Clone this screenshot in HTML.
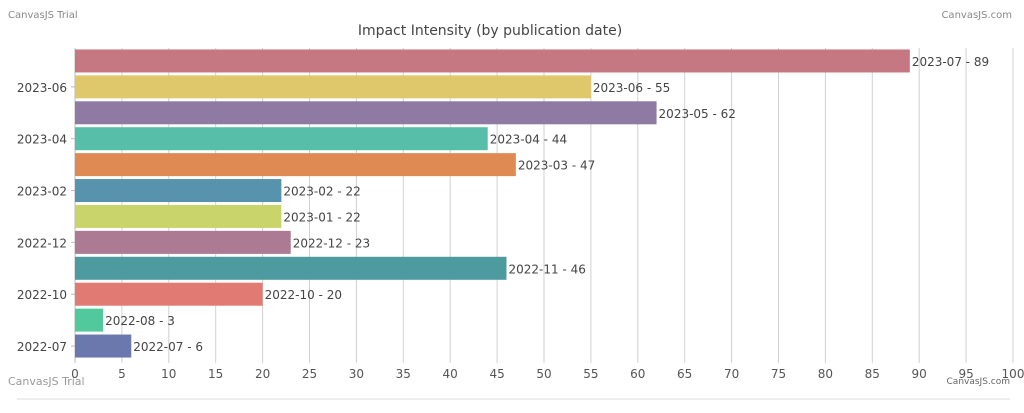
<!DOCTYPE html>
<html><head><meta charset="utf-8"><style>
body{margin:0;background:#fff;width:1024px;height:408px;overflow:hidden;font-family:"Liberation Sans",sans-serif}
svg text{font-family:"DejaVu Sans","Liberation Sans",sans-serif}
</style></head><body>
<svg width="1024" height="408">
<text x="8" y="18" font-size="10" fill="#888" font-family="Liberation Sans">CanvasJS Trial</text>
<text x="1012" y="18" font-size="10" fill="#888" text-anchor="end" font-family="Liberation Sans">CanvasJS.com</text>
<text x="490" y="35" font-size="14" fill="#444" text-anchor="middle" font-family="Liberation Sans">Impact Intensity (by publication date)</text>
<text x="8" y="385" font-size="11" fill="#999" font-family="Liberation Sans">CanvasJS Trial</text>
<text x="1010" y="384" font-size="9" fill="#666" text-anchor="end" font-family="Liberation Sans">CanvasJS.com</text>
<line x1="17" y1="399" x2="1010" y2="399" stroke="#ddd"/>
<g id="grid"></g><g id="bars"></g><g id="axes"></g>
</svg>
<script>
const categories=["2023-07","2023-06","2023-05","2023-04","2023-03","2023-02","2023-01","2022-12","2022-11","2022-10","2022-08","2022-07"];
const values=[89,55,62,44,47,22,22,23,46,20,3,6];
const colors=["#c67882","#dfc86c","#8e7aa3","#57bfa9","#df8a52","#5793ac","#c9d46b","#ad7a93","#4e9b9f","#e07a72","#52c99c","#6b78ad"];
const shownLabels=["2023-06","2023-04","2023-02","2022-12","2022-10","2022-07"];
const xTicks=[0,5,10,15,20,25,30,35,40,45,50,55,60,65,70,75,80,85,90,95,100];
const ns="http://www.w3.org/2000/svg";
const X0=75,X1=1013,TOP=48,BOT=359;
const xs=v=>X0+(X1-X0)*v/100;
const step=(BOT-TOP)/categories.length;
const yc=i=>TOP+step*(i+0.5);
function mk(t,a,p){const e=document.createElementNS(ns,t);for(const k in a)e.setAttribute(k,a[k]);p.appendChild(e);return e;}
const g=document.getElementById('grid'),b=document.getElementById('bars'),ax=document.getElementById('axes');
xTicks.forEach(t=>{
 const l=mk('line',{x1:xs(t),x2:xs(t),y1:TOP,y2:BOT+4,stroke:t===0?'#bbb':'#d0d0d0'},g);
 
 
 const tx=mk('text',{x:xs(t),y:378,'font-size':12,fill:'#555','text-anchor':'middle'},ax);
 tx.textContent=t;
 
 
});
categories.forEach((c,i)=>{
 const r=mk('rect',{x:X0,y:yc(i)-11.5,width:xs(values[i])-X0,height:23,fill:colors[i]},b);
 
 
 const t=mk('text',{x:xs(values[i])+2,y:yc(i)+5,'font-size':12,fill:'#444'},b);
 t.textContent=c+' - '+values[i];
 
 
 if(shownLabels.includes(c)){
  const y=mk('text',{x:X0-8,y:yc(i)+5,'font-size':12,fill:'#444','text-anchor':'end'},ax);
  y.textContent=c;
  
  
  const tk=mk('line',{x1:X0-4,x2:X0,y1:yc(i),y2:yc(i),stroke:'#bbb'},ax);
  
  
 }
});
</script>
</body></html>
